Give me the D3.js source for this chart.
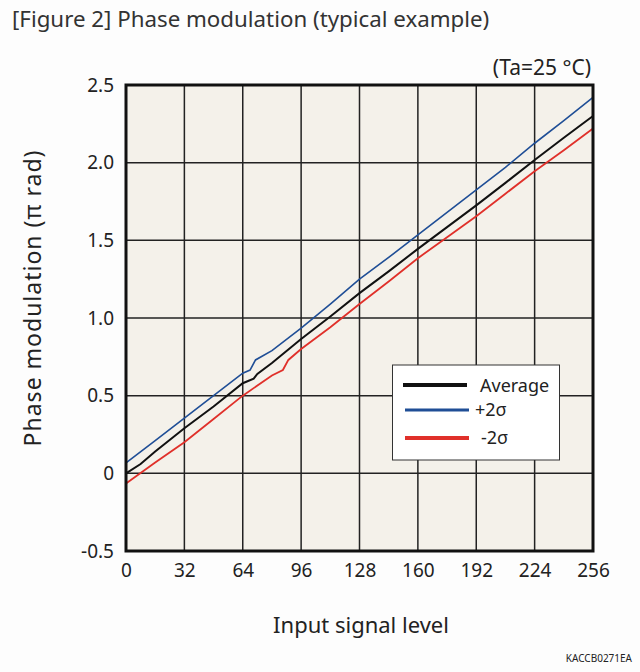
<!DOCTYPE html>
<html><head><meta charset="utf-8">
<script src="https://cdn.jsdelivr.net/npm/d3@7"></script>
<style>body{margin:0;background:#fdfdfd;} text{font-family:"Noto Sans",sans-serif;}</style>
</head><body>
<svg id="c" width="640" height="672"></svg>
<script>
const xTicks = [0,32,64,96,128,160,192,224,256];
const yTicks = [-0.5,0,0.5,1.0,1.5,2.0,2.5];
const yTickLabels = ["-0.5","0","0.5","1.0","1.5","2.0","2.5"];
const avgX = [0,8,16,32,48,64,70,72,80,96,112,128,144,160,176,192,208,224,240,256];
const avgY = [0.00,0.06,0.14,0.29,0.43,0.58,0.61,0.64,0.71,0.865,1.01,1.16,1.30,1.445,1.585,1.725,1.87,2.017,2.16,2.30];
const plusX = [0,16,32,48,64,68,71,80,96,112,128,144,160,176,192,208,224,240,256];
const plusY = [0.068,0.21,0.355,0.50,0.645,0.665,0.73,0.79,0.935,1.09,1.25,1.39,1.535,1.68,1.825,1.97,2.125,2.27,2.42];
const minusX = [0,16,32,48,64,80,86,89,96,112,128,144,160,176,192,208,224,240,256];
const minusY = [-0.065,0.07,0.20,0.35,0.50,0.63,0.665,0.73,0.80,0.94,1.09,1.235,1.385,1.52,1.655,1.80,1.945,2.08,2.22];
const legendLabels = ["Average","+2σ","-2σ"];
const colors = ["#111111","#1f4e96","#e0302a"];

const svg = d3.select("#c");
const L=126, R=593, T=85, B=551;
const x = d3.scaleLinear().domain([0,256]).range([L,R]);
const y = d3.scaleLinear().domain([-0.5,2.5]).range([B,T]);

svg.append("text").attr("x",12).attr("y",27).attr("font-size",22.3).attr("fill","#333")
  .text("[Figure 2] Phase modulation (typical example)");
svg.append("text").attr("x",591).attr("y",75).attr("text-anchor","end").attr("font-size",21).attr("fill","#222")
  .text("(Ta=25 °C)");

svg.append("rect").attr("x",L).attr("y",T).attr("width",R-L).attr("height",B-T).attr("fill","#f4f1ea");

const g = svg.append("g");
g.selectAll("line.v").data(xTicks.slice(1,-1)).join("line")
  .attr("x1",d=>x(d)).attr("x2",d=>x(d)).attr("y1",T).attr("y2",B).attr("stroke","#222").attr("stroke-width",1.5);
g.selectAll("line.h").data(yTicks.slice(1,-1)).join("line")
  .attr("y1",d=>y(d)).attr("y2",d=>y(d)).attr("x1",L).attr("x2",R).attr("stroke","#222").attr("stroke-width",1.5);

const line = d3.line().x(d=>x(d[0])).y(d=>y(d[1]));
const series = [
  {xs:avgX, ys:avgY, c:colors[0], w:2},
  {xs:plusX, ys:plusY, c:colors[1], w:1.6},
  {xs:minusX, ys:minusY, c:colors[2], w:1.8}
];
series.forEach(s=>{
  svg.append("path").datum(s.xs.map((v,i)=>[v,s.ys[i]])).attr("d",line)
    .attr("fill","none").attr("stroke",s.c).attr("stroke-width",s.w);
});

svg.append("rect").attr("x",L).attr("y",T).attr("width",R-L).attr("height",B-T)
  .attr("fill","none").attr("stroke","#111").attr("stroke-width",3);

const xAxis = d3.axisBottom(x).tickValues(xTicks).tickSize(0).tickPadding(13);
const xa = svg.append("g").attr("transform",`translate(0,${B})`).call(xAxis);
xa.select(".domain").remove();
xa.selectAll("text").attr("font-size",19).attr("fill","#222").attr("font-family","Noto Sans");

const yAxis = d3.axisLeft(y).tickValues(yTicks).tickFormat((d,i)=>yTickLabels[i]).tickSize(0).tickPadding(12);
const ya = svg.append("g").attr("transform",`translate(${L},0)`).call(yAxis);
ya.select(".domain").remove();
ya.selectAll("text").attr("font-size",19).attr("fill","#222").attr("font-family","Noto Sans");

svg.append("text").attr("x",361).attr("y",633).attr("text-anchor","middle").attr("font-size",22).attr("fill","#222")
  .text("Input signal level");
svg.append("text").attr("transform","translate(41,298) rotate(-90)").attr("text-anchor","middle").attr("font-size",23)
  .attr("letter-spacing",1).attr("fill","#222")
  .text("Phase modulation (π rad)");
svg.append("text").attr("x",632).attr("y",662).attr("text-anchor","end").attr("font-size",10).attr("fill","#222")
  .attr("font-family","Liberation Sans Narrow, Liberation Sans").text("KACCB0271EA");

// legend
const lg = svg.append("g");
lg.append("rect").attr("x",392.5).attr("y",365).attr("width",167).attr("height",95).attr("fill","#fff").attr("stroke","#333").attr("stroke-width",1);
const lgY=[385,410,438], lgX1=[403,405,405], lgX2=[467,469,469], lgW=[4,3,4], txX=[480,475,481], txY=[392,416,444];
legendLabels.forEach((t,i)=>{
  lg.append("line").attr("x1",lgX1[i]).attr("x2",lgX2[i]).attr("y1",lgY[i]).attr("y2",lgY[i]).attr("stroke",colors[i]).attr("stroke-width",lgW[i]);
  lg.append("text").attr("x",txX[i]).attr("y",txY[i]).attr("font-size",18).attr("fill","#222").text(t);
});
</script>
</body></html>
